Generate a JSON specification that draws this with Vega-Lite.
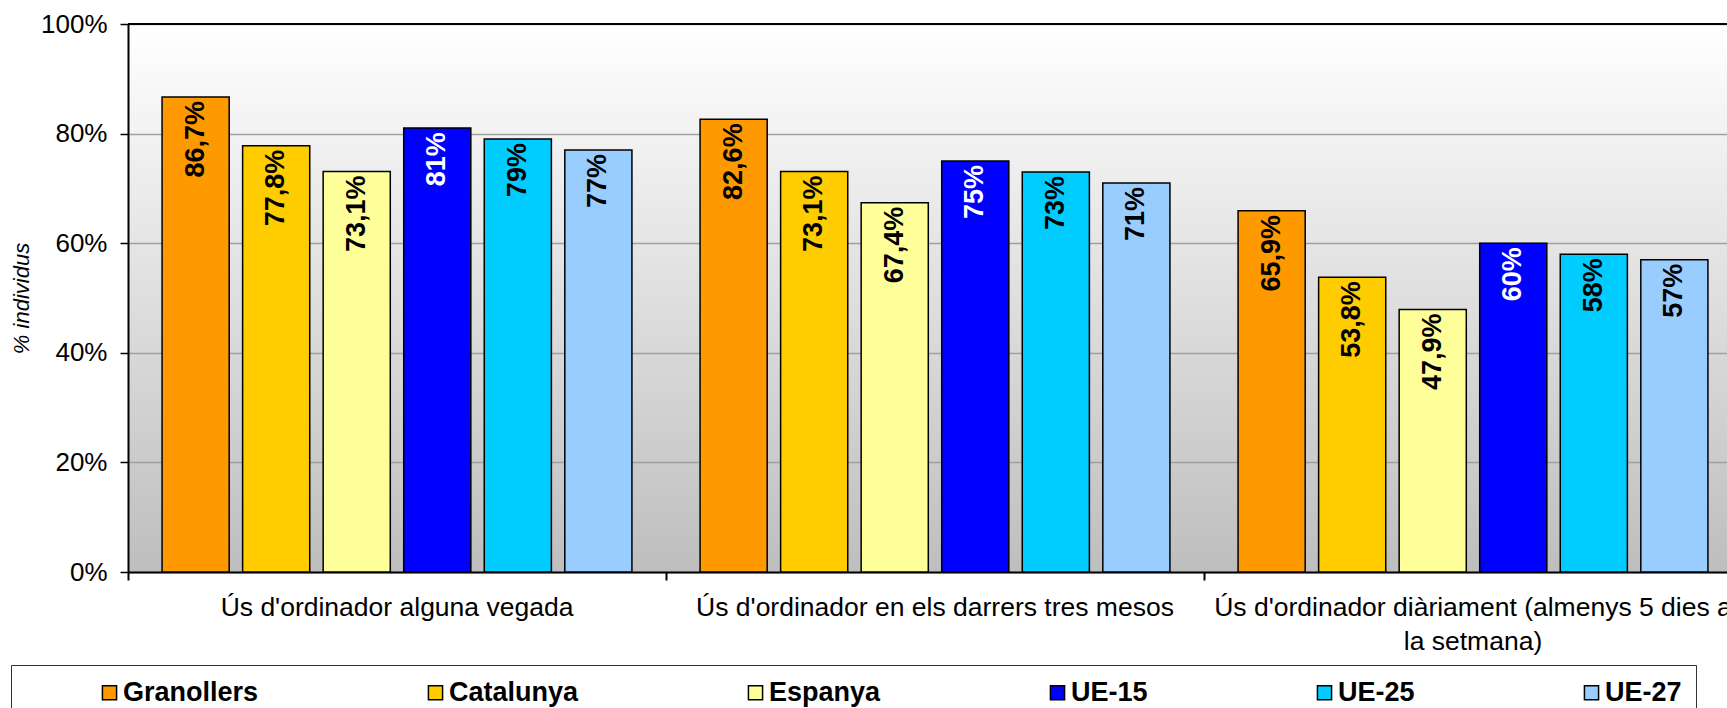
{
  "$schema": "https://vega.github.io/schema/vega-lite/v6.json",
  "autosize": {"type": "none"},
  "width": 1599,
  "height": 548,
  "padding": {"left": 128, "top": 24, "right": 0, "bottom": 136},
  "background": "white",
  "config": {
    "font": "Liberation Sans",
    "view": {
      "stroke": null,
      "fill": {"gradient": "linear", "x1": 0, "y1": 0, "x2": 0, "y2": 1,
        "stops": [{"offset": 0, "color": "#ffffff"}, {"offset": 1, "color": "#bebebe"}]}
    }
  },
  "data": {
    "values": [
      {"cat": "Ús d'ordinador alguna vegada", "serie": "Granollers", "value": 86.7, "label": "86,7%"},
      {"cat": "Ús d'ordinador alguna vegada", "serie": "Catalunya", "value": 77.8, "label": "77,8%"},
      {"cat": "Ús d'ordinador alguna vegada", "serie": "Espanya", "value": 73.1, "label": "73,1%"},
      {"cat": "Ús d'ordinador alguna vegada", "serie": "UE-15", "value": 81, "label": "81%"},
      {"cat": "Ús d'ordinador alguna vegada", "serie": "UE-25", "value": 79, "label": "79%"},
      {"cat": "Ús d'ordinador alguna vegada", "serie": "UE-27", "value": 77, "label": "77%"},
      {"cat": "Ús d'ordinador en els darrers tres mesos", "serie": "Granollers", "value": 82.6, "label": "82,6%"},
      {"cat": "Ús d'ordinador en els darrers tres mesos", "serie": "Catalunya", "value": 73.1, "label": "73,1%"},
      {"cat": "Ús d'ordinador en els darrers tres mesos", "serie": "Espanya", "value": 67.4, "label": "67,4%"},
      {"cat": "Ús d'ordinador en els darrers tres mesos", "serie": "UE-15", "value": 75, "label": "75%"},
      {"cat": "Ús d'ordinador en els darrers tres mesos", "serie": "UE-25", "value": 73, "label": "73%"},
      {"cat": "Ús d'ordinador en els darrers tres mesos", "serie": "UE-27", "value": 71, "label": "71%"},
      {"cat": "Ús d'ordinador diàriament (almenys 5 dies a la setmana)", "serie": "Granollers", "value": 65.9, "label": "65,9%"},
      {"cat": "Ús d'ordinador diàriament (almenys 5 dies a la setmana)", "serie": "Catalunya", "value": 53.8, "label": "53,8%"},
      {"cat": "Ús d'ordinador diàriament (almenys 5 dies a la setmana)", "serie": "Espanya", "value": 47.9, "label": "47,9%"},
      {"cat": "Ús d'ordinador diàriament (almenys 5 dies a la setmana)", "serie": "UE-15", "value": 60, "label": "60%"},
      {"cat": "Ús d'ordinador diàriament (almenys 5 dies a la setmana)", "serie": "UE-25", "value": 58, "label": "58%"},
      {"cat": "Ús d'ordinador diàriament (almenys 5 dies a la setmana)", "serie": "UE-27", "value": 57, "label": "57%"}
    ]
  },
  "encoding": {
    "y": {
      "field": "value", "type": "quantitative",
      "scale": {"domain": [0, 100], "nice": false},
      "axis": {
        "values": [0, 20, 40, 60, 80, 100],
        "labelExpr": "datum.value + '%'",
        "grid": true, "gridColor": "#a0a0a0", "gridWidth": 1.5,
        "domain": true, "domainColor": "#000000", "domainWidth": 2,
        "ticks": true, "tickColor": "#000000", "tickSize": 8, "tickWidth": 1.5,
        "labelFontSize": 26, "labelColor": "#000000", "labelPadding": 13,
        "title": "% individus", "titleFontSize": 22, "titleFontStyle": "italic",
        "titleFontWeight": "normal", "titleColor": "#000000", "titlePadding": 7
      }
    }
  },
  "layer": [
    {
      "mark": {"type": "bar", "stroke": "#000000", "strokeWidth": 1.5},
      "encoding": {
        "x": {
          "field": "cat", "type": "nominal",
          "scale": {
            "domain": ["Ús d'ordinador alguna vegada", "Ús d'ordinador en els darrers tres mesos", "Ús d'ordinador diàriament (almenys 5 dies a la setmana)"],
            "range": [0, 1614], "paddingInner": 0, "paddingOuter": 0
          },
          "axis": {
            "orient": "bottom", "title": null, "ticks": false, "grid": false,
            "domain": true, "domainColor": "#000000", "domainWidth": 2,
            "labelAngle": 0, "labelFontSize": 26.5, "labelColor": "#000000",
            "labelPadding": 22, "labelLimit": 2000, "labelLineHeight": 34,
            "labelBaseline": "top",
            "labelExpr": "datum.value == \"Ús d'ordinador diàriament (almenys 5 dies a la setmana)\" ? [\"Ús d'ordinador diàriament (almenys 5 dies a\", \"la setmana)\"] : datum.value"
          }
        },
        "xOffset": {
          "field": "serie", "type": "nominal",
          "scale": {"domain": ["Granollers", "Catalunya", "Espanya", "UE-15", "UE-25", "UE-27"], "paddingInner": 0.1667, "paddingOuter": 0.423}
        },
        "color": {
          "field": "serie", "type": "nominal",
          "scale": {
            "domain": ["Granollers", "Catalunya", "Espanya", "UE-15", "UE-25", "UE-27"],
            "range": ["#FF9900", "#FFCC00", "#FFFF99", "#0000FF", "#00CCFF", "#99CCFF"]
          },
          "legend": {
            "orient": "none", "legendX": -117, "legendY": 641,
            "direction": "horizontal", "columns": 6, "title": null,
            "strokeColor": "#333333", "fillColor": "#ffffff", "padding": 14,
            "symbolType": "square", "symbolSize": 200, "symbolStrokeColor": "#000000",
            "symbolStrokeWidth": 1.5, "symbolOpacity": 1,
            "labelFontSize": 27, "labelFontWeight": "bold", "labelColor": "#000000",
            "labelOffset": 0, "symbolOffset": 71, "columnPadding": 92, "gridAlign": "each"
          }
        }
      }
    },
    {
      "mark": {"type": "text", "angle": 270, "align": "right", "baseline": "middle", "dx": -4, "fontSize": 27, "fontWeight": "bold"},
      "encoding": {
        "x": {
          "field": "cat", "type": "nominal",
          "axis": {
            "orient": "bottom", "title": null, "labels": false, "domain": false, "grid": false,
            "ticks": true, "tickSize": 8, "tickColor": "#000000", "tickWidth": 2, "bandPosition": 0
          }
        },
        "xOffset": {"field": "serie", "type": "nominal"},
        "text": {"field": "label"},
        "color": {"condition": {"test": "datum.serie == 'UE-15'", "value": "#ffffff"}, "value": "#000000"}
      }
    },
    {
      "mark": {"type": "rule", "color": "#000000", "strokeWidth": 2},
      "encoding": {"y": {"datum": 100}}
    }
  ],
  "resolve": {"axis": {"x": "independent"}}
}
